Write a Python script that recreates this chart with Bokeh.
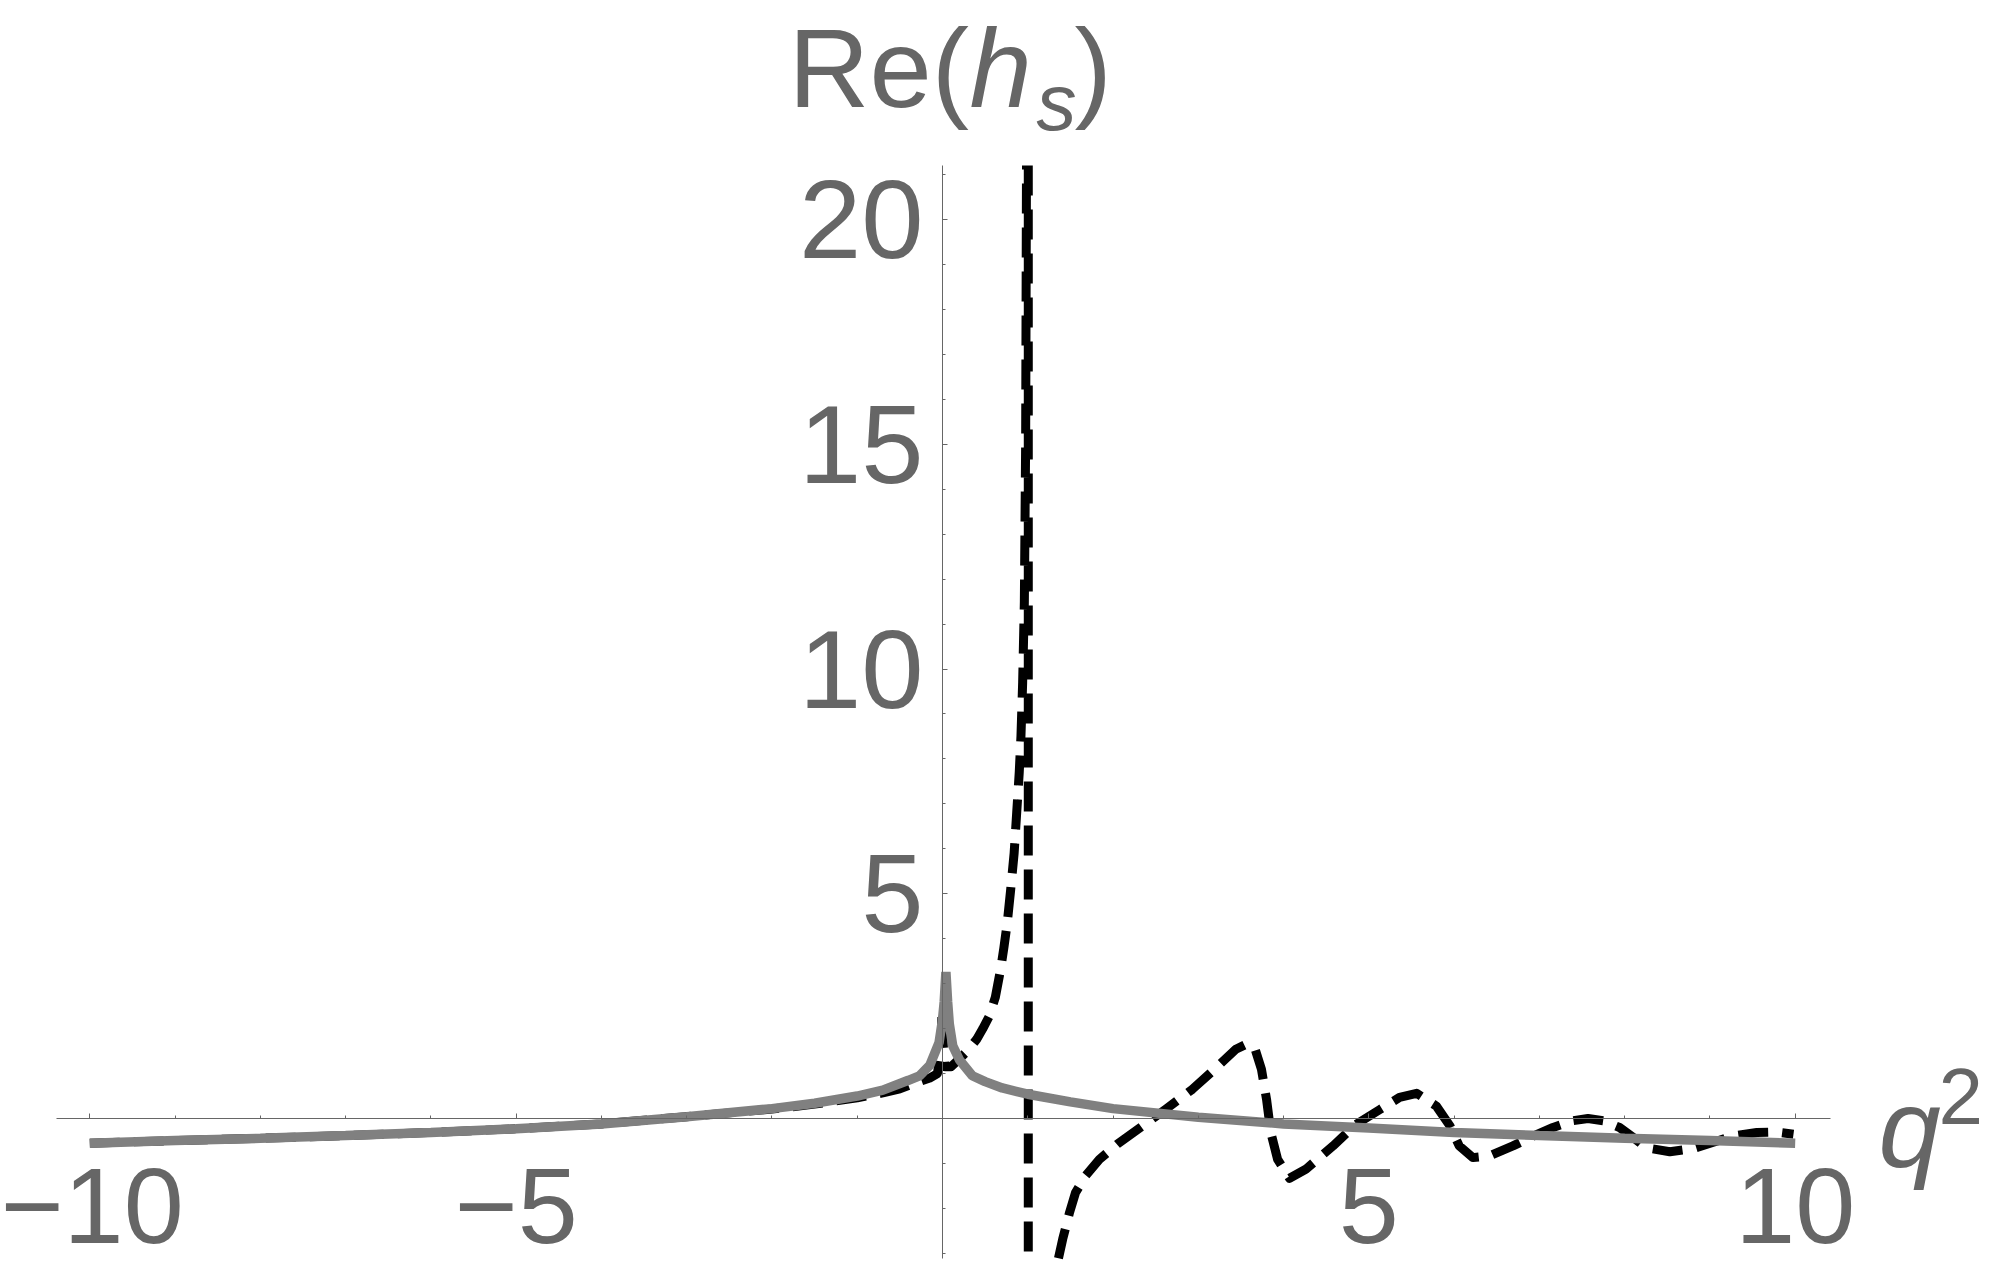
from bokeh.plotting import figure
from bokeh.models import FixedTicker, Label, Range1d
from bokeh.embed import file_html
from bokeh.resources import INLINE

NAN = float("nan")

# ---- data ----
gray_x = [-10, -9, -8, -7, -6, -5, -4, -3, -2, -1.5, -1, -0.7, -0.4, -0.27, -0.15,
          -0.04, 0.0, 0.02, 0.04, 0.06, 0.08, 0.12, 0.2, 0.35, 0.5, 0.7, 1.0, 1.5,
          2, 3, 4, 5, 6, 7, 8, 9, 10]
gray_y = [-0.55, -0.49, -0.44, -0.38, -0.31, -0.23, -0.12, 0.04, 0.22, 0.34, 0.50, 0.63,
          0.85, 0.95, 1.18, 1.69, 2.2, 2.6, 3.26, 2.6, 2.1, 1.62, 1.3, 0.95, 0.82, 0.68,
          0.54, 0.37, 0.22, 0.03, -0.12, -0.21, -0.31, -0.38, -0.44, -0.49, -0.55]

# black dashed curve: left branch up to the top of the plot, the pole jump,
# and the right branch coming up from the bottom of the plot
black_x = [-10, -9, -8, -7, -6, -5, -4, -3, -2, -1.5, -1, -0.7, -0.5, -0.3, -0.15,
           -0.06, -0.02, -0.005, 0.01, 0.03, 0.1, 0.2, 0.3, 0.4, 0.47, 0.55, 0.62,
           0.68, 0.72, 0.76, 0.8, 0.84, 0.87, 0.9, 0.92, 0.94, 0.96, 0.975, 0.985,
           NAN, 1.006, 1.006, NAN,
           1.36, 1.41, 1.49, 1.56, 1.68, 1.84, 2.05, 2.35, 2.62,
           2.93, 3.21, 3.44, 3.56, 3.66, 3.74, 3.80, 3.85, 3.93, 4.07, 4.26, 4.58,
           4.85, 5.13, 5.36, 5.56, 5.79, 5.95, 6.06, 6.22, 6.42, 6.69, 6.92, 7.16,
           7.39, 7.57, 7.75, 7.94, 8.1, 8.25, 8.53, 8.8, 9.04, 9.27, 9.55, 9.78, 9.98]
black_y = [-0.55, -0.49, -0.44, -0.38, -0.31, -0.23, -0.12, 0.04, 0.21, 0.32, 0.46,
           0.57, 0.66, 0.80, 0.90, 1.0, 1.5, 2.4, 1.6, 1.15, 1.15, 1.33, 1.52, 1.76,
           1.99, 2.28, 2.7, 3.3, 3.8, 4.36, 5.1, 5.9, 6.8, 7.7, 8.5, 9.7, 11.5, 15,
           21.2,
           NAN, 21.2, -3.11, NAN,
           -3.11, -2.68, -2.09, -1.65, -1.27, -0.91, -0.57, -0.16,
           0.21, 0.65, 1.13, 1.54, 1.65, 1.58, 1.10, 0.43, -0.31, -0.91, -1.33,
           -1.13, -0.61, -0.13, 0.20, 0.47, 0.56, 0.28, -0.16, -0.61, -0.87, -0.83,
           -0.61, -0.40, -0.20, -0.05, 0.0, -0.05, -0.20, -0.42, -0.65, -0.74, -0.67,
           -0.53, -0.39, -0.31, -0.30, -0.35]

x_major = [-10, -5, 5, 10]
x_minor = [-10, -9, -8, -7, -6, -5, -4, -3, -2, -1, 1, 2, 3, 4, 5, 6, 7, 8, 9, 10]
y_major = [5, 10, 15, 20]
y_minor = [-3, -2, -1, 1, 2, 3, 4, 5, 6, 7, 8, 9, 10, 11, 12, 13, 14, 15, 16, 17,
           18, 19, 20, 21]
x_tick_text = {-10: "\u221210", -5: "\u22125", 5: "5", 10: "10"}
x_axis_extent = (-10.39, 10.41)
y_axis_extent = (-3.11, 21.2)

# ---- layout ----
W, H = 1984, 1268
PX_X, PX_Y = 85.27, 44.95    # pixels per data unit
OX, OY = 942, 1118           # canvas position of the origin
FONT = "Liberation Sans"
GREY_TXT = "#666666"
FS = "112px"
FS_X = "108px"
FS_SMALL = "80px"

x0 = -OX / PX_X
x1 = (W - OX) / PX_X
y0 = -(H - OY) / PX_Y
y1 = OY / PX_Y

p = figure(width=W, height=H, x_range=Range1d(x0, x1), y_range=Range1d(y0, y1),
           output_backend="svg", toolbar_location=None, min_border=0,
           min_border_left=0, min_border_right=0, min_border_top=0,
           min_border_bottom=0)
p.grid.visible = False
p.outline_line_color = None

for ax, major, minor, bounds in ((p.xaxis[0], x_major, x_minor, x_axis_extent),
                                 (p.yaxis[0], y_major, y_minor, y_axis_extent)):
    ax.fixed_location = 0
    ax.bounds = bounds
    ax.ticker = FixedTicker(ticks=major, minor_ticks=minor)
    ax.axis_line_color = GREY_TXT
    ax.axis_line_width = 1
    ax.major_tick_line_color = GREY_TXT
    ax.minor_tick_line_color = GREY_TXT
    ax.major_tick_in = 5
    ax.major_tick_out = 0
    ax.minor_tick_in = 3
    ax.minor_tick_out = 0
    ax.major_label_text_font = FONT
    ax.major_label_text_font_size = FS
    ax.major_label_text_color = GREY_TXT

p.xaxis[0].major_label_overrides = x_tick_text
p.xaxis[0].major_label_text_font_size = FS_X
p.xaxis[0].major_label_standoff = 50
p.yaxis[0].major_label_standoff = 19

p.line(black_x, black_y, line_color="black", line_width=9, line_dash="30 14",
       line_cap="butt", line_join="round")
p.line(gray_x, gray_y, line_color="#808080", line_width=9.5, line_join="bevel")

def lab(text, cx, cy, size=FS, style="normal"):
    # cx, cy: canvas pixel position of the text's left end and its bottom
    p.add_layout(Label(x=cx, y=H - cy, x_units="screen", y_units="screen",
                       text=text, text_font=FONT, text_font_size=size,
                       text_font_style=style, text_color=GREY_TXT,
                       text_align="left", text_baseline="alphabetic"))

lab("Re(", 788, 68)
lab("h", 969, 68, style="italic")
lab("s", 1036, 102, size=FS_SMALL, style="italic")
lab(")", 1074, 68)
lab("q", 1878, 1128, style="italic")
lab("2", 1938, 1096, size=FS_SMALL)

open("out.html", "w").write(file_html(p, INLINE))
